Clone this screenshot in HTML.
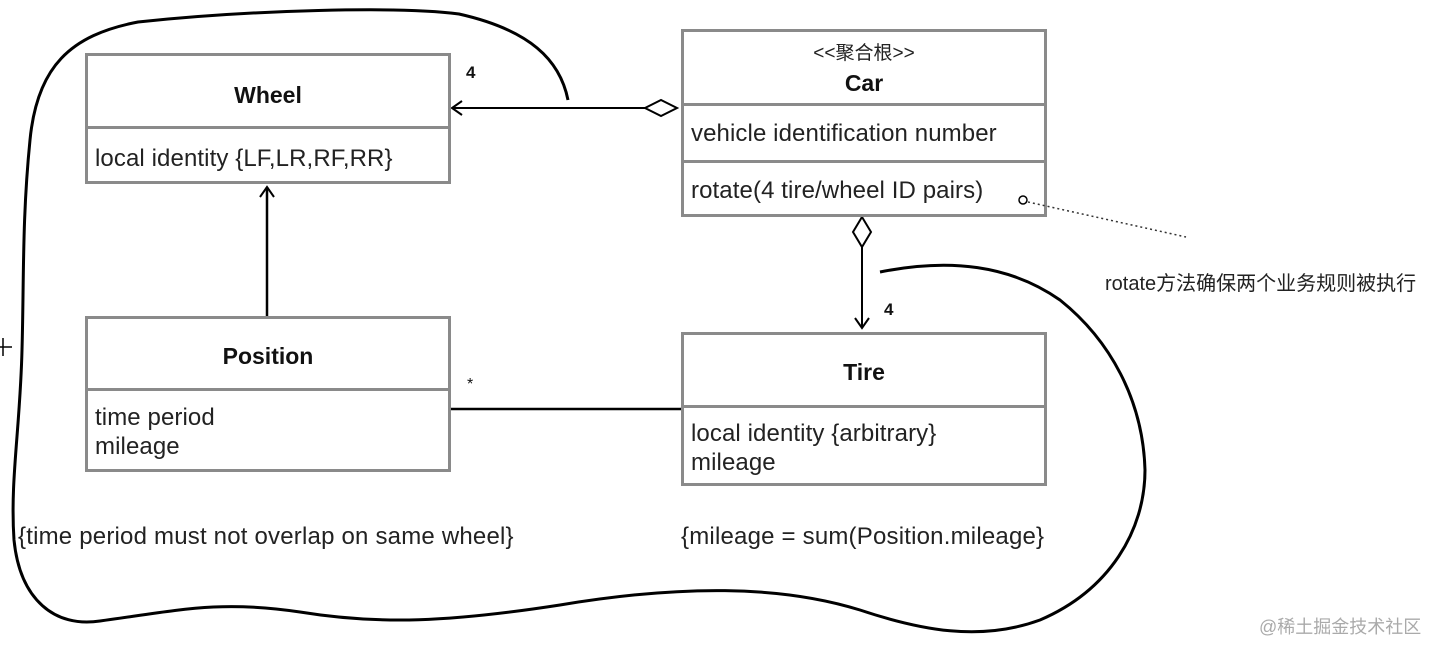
<!DOCTYPE html>
<html><head><meta charset="utf-8"><style>
body{margin:0;width:1440px;height:654px;background:#fff;overflow:hidden;position:relative;font-family:"Liberation Sans","Noto Sans CJK SC",sans-serif;color:#111}
.b{position:absolute;border:3px solid #8a8a8a;box-sizing:border-box;background:#fff}
.d{position:absolute;left:0;right:0;border-top:3px solid #8a8a8a}
.t{position:absolute;white-space:nowrap}
.h{font-weight:bold;font-size:23px;left:0;right:0;text-align:center}
.a{font-size:24px;left:7px;line-height:29px;color:#222;letter-spacing:0.1px}
</style></head><body>
<svg width="1440" height="654" style="position:absolute;left:0;top:0">
<path d="M568,100 C560,60 530,30 459,14 C400,6 250,10 138,22 C70,35 37,67 30,140 C22,220 24,280 22,350 C20,430 10,480 14,540 C20,600 55,628 100,621 C180,610 220,600 300,612 C380,625 450,622 560,605 C680,585 780,585 860,610 C920,630 980,642 1040,620 C1110,590 1145,530 1145,470 C1143,400 1110,340 1060,300 C1010,265 950,258 880,272" fill="none" stroke="#000" stroke-width="3"/>
<line x1="452" y1="108" x2="645" y2="108" stroke="#000" stroke-width="2"/>
<path d="M462,101 L452,108 L462,115" fill="none" stroke="#000" stroke-width="2"/>
<path d="M645,108 L661,100 L677,108 L661,116 Z" fill="#fff" stroke="#000" stroke-width="2"/>
<path d="M862,217 L871,232 L862,247 L853,232 Z" fill="#fff" stroke="#000" stroke-width="2"/>
<line x1="862" y1="247" x2="862" y2="328" stroke="#000" stroke-width="2"/>
<path d="M855,318 L862,328 L869,318" fill="none" stroke="#000" stroke-width="2"/>
<line x1="267" y1="316" x2="267" y2="187" stroke="#000" stroke-width="2.5"/>
<path d="M260,197 L267,187 L274,197" fill="none" stroke="#000" stroke-width="2"/>
<line x1="450" y1="409" x2="681" y2="409" stroke="#000" stroke-width="2.5"/>
<line x1="0" y1="347" x2="12" y2="347" stroke="#000" stroke-width="1.5"/>
<line x1="3" y1="338" x2="3" y2="356" stroke="#000" stroke-width="1.5"/>
</svg>
<div class="b" style="left:85px;top:53px;width:366px;height:131px"><div class="t h" style="top:26px">Wheel</div><div class="d" style="top:70px"></div><div class="t a" style="top:88px">local identity {LF,LR,RF,RR}</div></div>
<div class="b" style="left:85px;top:316px;width:366px;height:156px"><div class="t h" style="top:24px">Position</div><div class="d" style="top:69px"></div><div class="t a" style="top:84px">time period<br>mileage</div></div>
<div class="b" style="left:681px;top:29px;width:366px;height:188px"><div class="t" style="left:0;right:0;text-align:center;top:6px;font-size:19px;color:#222">&lt;&lt;聚合根&gt;&gt;</div><div class="t h" style="top:38px">Car</div><div class="d" style="top:71px"></div><div class="t a" style="top:87px">vehicle identification number</div><div class="d" style="top:128px"></div><div class="t a" style="top:144px">rotate(4 tire/wheel ID pairs)</div></div>
<div class="b" style="left:681px;top:332px;width:366px;height:154px"><div class="t h" style="top:24px">Tire</div><div class="d" style="top:70px"></div><div class="t a" style="top:84px">local identity {arbitrary}<br>mileage</div></div>
<svg width="1440" height="654" style="position:absolute;left:0;top:0">
<circle cx="1023" cy="200" r="4" fill="#fff" stroke="#000" stroke-width="1.5"/>
<line x1="1028" y1="202" x2="1186" y2="237" stroke="#333" stroke-width="1.5" stroke-dasharray="2,3"/>
</svg>
<div class="t" style="left:466px;top:63px;font-weight:bold;font-size:17px">4</div>
<div class="t" style="left:884px;top:300px;font-weight:bold;font-size:17px">4</div>
<div class="t" style="left:467px;top:376px;font-size:16px">*</div>
<div class="t" style="left:18px;top:523px;font-size:24px;color:#222;letter-spacing:0.2px">{time period must not overlap on same wheel}</div>
<div class="t" style="left:681px;top:523px;font-size:24px;color:#222;letter-spacing:0.2px">{mileage = sum(Position.mileage}</div>
<div class="t" style="left:1105px;top:267px;font-size:20px;color:#222">rotate方法确保两个业务规则被执行</div>
<div class="t" style="left:1259px;top:613px;font-size:18px;color:#aaa">@稀土掘金技术社区</div>
</body></html>
